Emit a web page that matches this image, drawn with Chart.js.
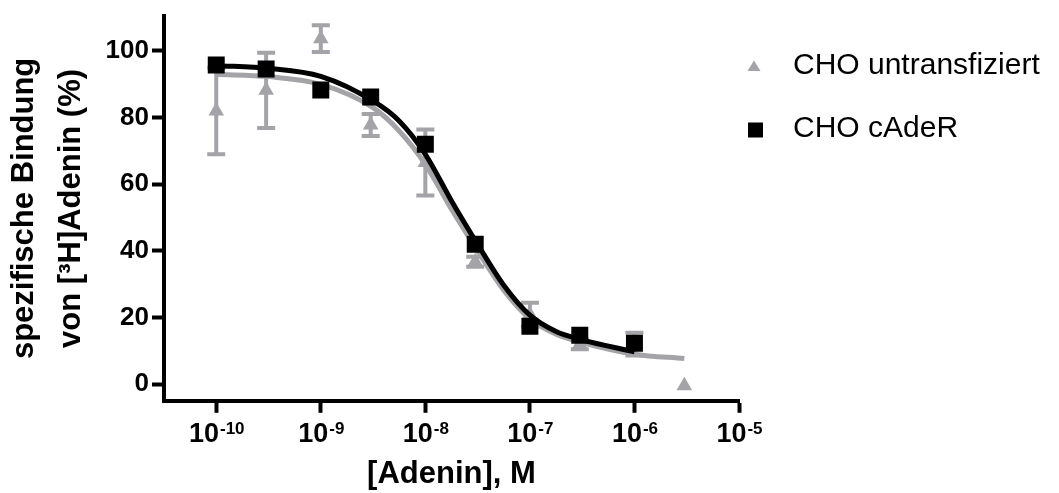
<!DOCTYPE html>
<html>
<head>
<meta charset="utf-8">
<script src="https://cdn.jsdelivr.net/npm/chart.js@4.4.0/dist/chart.umd.min.js"></script>
<style>
  html, body { margin: 0; padding: 0; background: #fff; }
  #bindingChart { display: block; }
</style>
</head>
<body>
<canvas id="bindingChart" width="1059" height="493"></canvas>
<script>
var GREY = "#a4a4a8";
var FONT = "'Liberation Sans', Arial, sans-serif";

// measured points, concentration in mol/l
var concUntransfected = [1e-10, 3e-10, 1e-9, 3e-9, 1e-8, 3e-8, 1e-7, 3e-7, 1e-6, 3e-6];
var bindingUntransfected = [82, 88.2, 103.7, 77.8, 66.5, 36.7, 20.8, 12, 12, -0.5];
var sdUntransfected = [13, 11.3, 4, 3.3, 9.9, 1.5, 3.6, 1.5, 3.4, 0];

var concCAdeR = [1e-10, 3e-10, 1e-9, 3e-9, 1e-8, 3e-8, 1e-7, 3e-7, 1e-6];
var bindingCAdeR = [95.8, 94.6, 88.3, 86.2, 72, 42, 17.4, 14.7, 12.3];

// fitted curves
var curveConcUntransfected = [1e-10, 3.16e-10, 1e-9, 3.16e-9, 5.62e-9, 1e-8, 1.78e-8, 3.16e-8, 5.62e-8, 1e-7, 1.78e-7, 3.16e-7, 1e-6, 3e-6];
var curveUntransfected = [93.0, 92.3, 90.0, 83.0, 76.0, 66.0, 52.5, 40.0, 28.2, 19.6, 15.0, 12.5, 9.0, 7.7];
var curveConcCAdeR = [1e-10, 3.16e-10, 1e-9, 3.16e-9, 5.62e-9, 1e-8, 1.78e-8, 3.16e-8, 5.62e-8, 1e-7, 1.78e-7, 3.16e-7, 1e-6];
var curveCAdeR = [95.6, 94.8, 92.4, 85.0, 79.0, 69.0, 55.0, 42.0, 29.7, 20.7, 15.8, 13.3, 9.7];

// axis ticks
var xTickExps = [-10, -9, -8, -7, -6, -5];
var yTickValues = [0, 20, 40, 60, 80, 100];

function toPoints(xs, ys) {
  return xs.map(function(x, i) { return { x: x, y: ys[i] }; });
}

// error bars (mean +/- SD) for the untransfected cells, drawn behind the marks
var errorBarPlugin = {
  id: "errorBars",
  beforeDatasetsDraw: function(chart) {
    var ctx = chart.ctx;
    var xs = chart.scales.x, ys = chart.scales.y;
    ctx.save();
    ctx.strokeStyle = GREY;
    ctx.lineWidth = 4;
    concUntransfected.forEach(function(c, i) {
      var sd = sdUntransfected[i];
      if (!sd) return;
      var px = xs.getPixelForValue(c);
      var top = ys.getPixelForValue(bindingUntransfected[i] + sd);
      var bot = ys.getPixelForValue(bindingUntransfected[i] - sd);
      ctx.beginPath();
      ctx.moveTo(px, top); ctx.lineTo(px, bot);
      ctx.moveTo(px - 9, top); ctx.lineTo(px + 9, top);
      ctx.moveTo(px - 9, bot); ctx.lineTo(px + 9, bot);
      ctx.stroke();
    });
    ctx.restore();
  }
};

// x tick labels as 10 with a raised exponent
var powerLabelPlugin = {
  id: "powerLabels",
  afterDraw: function(chart) {
    var ctx = chart.ctx;
    var xs = chart.scales.x;
    ctx.save();
    ctx.fillStyle = "#000";
    ctx.textBaseline = "alphabetic";
    ctx.textAlign = "left";
    xTickExps.forEach(function(e) {
      var px = xs.getPixelForValue(Math.pow(10, e));
      var exp = String(e);
      ctx.font = "bold 27px " + FONT;
      var wBase = ctx.measureText("10").width;
      ctx.font = "bold 17px " + FONT;
      var wExp = ctx.measureText(exp).width;
      var x0 = px - (wBase + wExp) / 2;
      ctx.font = "bold 27px " + FONT;
      ctx.fillText("10", x0, 442);
      ctx.font = "bold 17px " + FONT;
      ctx.fillText(exp, x0 + wBase + 1, 434);
    });
    ctx.restore();
  }
};

// legend on the right, one row per data series
var sideLegendPlugin = {
  id: "sideLegend",
  afterDraw: function(chart) {
    var ctx = chart.ctx;
    var rows = [
      { label: chart.data.datasets[2].label, shape: "triangle", color: GREY, cy: 66, base: 73.5 },
      { label: chart.data.datasets[3].label, shape: "square", color: "#000", cy: 130, base: 136.5 }
    ];
    ctx.save();
    rows.forEach(function(r) {
      ctx.fillStyle = r.color;
      ctx.beginPath();
      if (r.shape === "triangle") {
        ctx.moveTo(754, r.cy - 5.5);
        ctx.lineTo(760.5, r.cy + 5);
        ctx.lineTo(747.5, r.cy + 5);
        ctx.closePath();
        ctx.fill();
      } else {
        ctx.fillRect(748, r.cy - 7.5, 15, 15);
      }
      ctx.fillStyle = "#000";
      ctx.font = "30px " + FONT;
      ctx.textBaseline = "alphabetic";
      ctx.fillText(r.label, 793, r.base);
    });
    ctx.restore();
  }
};

var ctx = document.getElementById("bindingChart").getContext("2d");

var bindingChart = new Chart(ctx, {
  type: "scatter",
  data: {
    datasets: [
      {
        label: "fit untransfiziert",
        data: toPoints(curveConcUntransfected, curveUntransfected),
        showLine: true,
        borderColor: GREY,
        borderWidth: 5,
        pointRadius: 0,
        cubicInterpolationMode: "monotone",
        order: 2
      },
      {
        label: "fit cAdeR",
        data: toPoints(curveConcCAdeR, curveCAdeR),
        showLine: true,
        borderColor: "#000",
        borderWidth: 5,
        pointRadius: 0,
        cubicInterpolationMode: "monotone",
        order: 1
      },
      {
        label: "CHO untransfiziert",
        data: toPoints(concUntransfected, bindingUntransfected),
        pointStyle: "triangle",
        pointRadius: 9,
        backgroundColor: GREY,
        borderColor: GREY,
        borderWidth: 0,
        order: 3
      },
      {
        label: "CHO cAdeR",
        data: toPoints(concCAdeR, bindingCAdeR),
        pointStyle: "rect",
        pointRadius: 12,
        backgroundColor: "#000",
        borderColor: "#000",
        borderWidth: 0,
        order: 0
      }
    ]
  },
  options: {
    responsive: false,
    animation: false,
    layout: { padding: { top: 15, right: 320, bottom: 0, left: 0 } },
    plugins: {
      legend: { display: false },
      tooltip: { enabled: false }
    },
    scales: {
      x: {
        type: "logarithmic",
        min: Math.pow(10, -10.5),
        max: 1e-5,
        afterBuildTicks: function(axis) {
          axis.ticks = xTickExps.map(function(e) { return { value: Math.pow(10, e) }; });
        },
        ticks: { display: false },
        grid: {
          drawOnChartArea: false,
          drawTicks: true,
          tickLength: 12,
          tickWidth: 4,
          tickColor: "#000"
        },
        border: { display: true, color: "#000", width: 4 },
        title: {
          display: true,
          text: "[Adenin], M",
          color: "#000",
          font: { family: FONT, size: 31, weight: "bold", lineHeight: 1.2 },
          padding: { top: 43, bottom: 0 }
        }
      },
      y: {
        min: -5,
        max: 110.5,
        afterBuildTicks: function(axis) {
          axis.ticks = yTickValues.map(function(v) { return { value: v }; });
        },
        ticks: {
          color: "#000",
          padding: 3,
          font: { family: FONT, size: 26, weight: "bold", lineHeight: 1 }
        },
        grid: {
          drawOnChartArea: false,
          drawTicks: true,
          tickLength: 12,
          tickWidth: 4,
          tickColor: "#000"
        },
        border: { display: true, color: "#000", width: 4 },
        title: {
          display: true,
          text: ["spezifische Bindung", "von [\u00B3H]Adenin (%)"],
          color: "#000",
          font: { family: FONT, size: 31, weight: "bold", lineHeight: 1.516 },
          padding: { top: 1, bottom: 7.6 }
        }
      }
    }
  },
  plugins: [errorBarPlugin, powerLabelPlugin, sideLegendPlugin]
});
</script>
</body>
</html>
